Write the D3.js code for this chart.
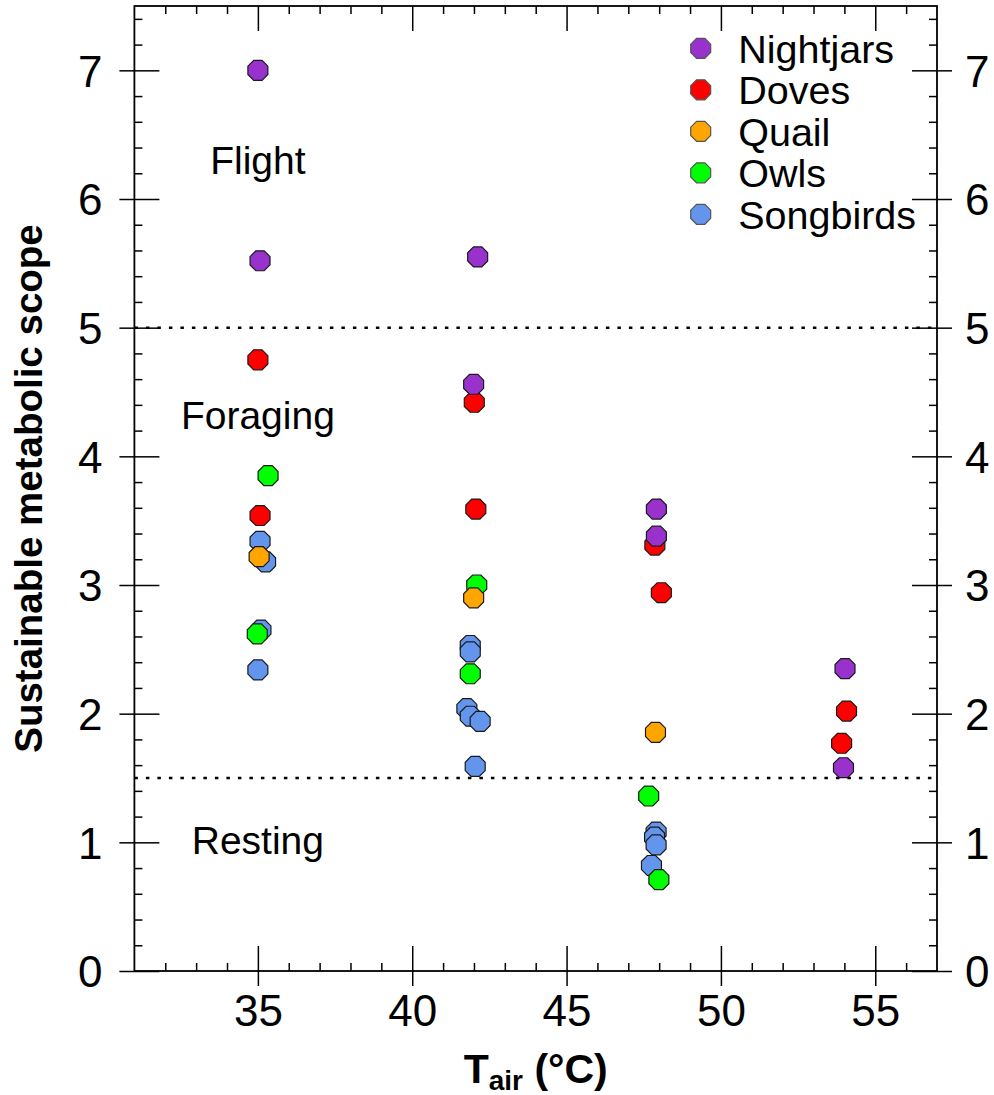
<!DOCTYPE html>
<html>
<head>
<meta charset="utf-8">
<script src="https://cdn.jsdelivr.net/npm/d3@7"></script>
<style>
  html, body { margin: 0; padding: 0; background: #fff; }
  svg { display: block; }
  text { font-family: "Liberation Sans", Arial, Helvetica, sans-serif; fill: #000; }
</style>
</head>
<body>
<svg id="chart" width="994" height="1095"></svg>
<script>
// ---------------- DATA ----------------
const nightjars = [[35.0, 7.0], [35.07, 5.52], [42.12, 5.55], [41.99, 4.56], [47.91, 3.59], [47.91, 3.38], [54.02, 2.35], [53.97, 1.58]];
const doves = [[35.0, 4.75], [35.07, 3.54], [42.01, 4.42], [42.06, 3.59], [47.86, 3.31], [48.07, 2.94], [54.07, 2.02], [53.91, 1.77]];
const quail = [[35.04, 3.22], [41.99, 2.90], [47.88, 1.855]];
const owls = [[35.33, 3.85], [34.98, 2.62], [42.09, 3.00], [41.88, 2.31], [47.66, 1.36], [47.99, 0.71]];
const songbirds = [[35.07, 3.34], [35.25, 3.18], [35.1, 2.65], [35.0, 2.34], [41.88, 2.53], [41.88, 2.48], [41.77, 2.04], [41.88, 1.98], [42.2, 1.94], [42.04, 1.59], [47.9, 1.08], [47.85, 1.04], [47.9, 0.98], [47.75, 0.82]];

const seriesNames = ["Nightjars", "Doves", "Quail", "Owls", "Songbirds"];
const seriesColors = ["#9932CC", "#FF0000", "#FFA500", "#00FF00", "#6495ED"];
const seriesData = [nightjars, doves, quail, owls, songbirds];

const xTicks = [35, 40, 45, 50, 55];
const yTicks = [0, 1, 2, 3, 4, 5, 6, 7];
const thresholds = [5, 1.5];
const regionLabels = ["Flight", "Foraging", "Resting"];
const regionValues = [6.3, 4.32, 1.02];
const regionX = 35;

// ---------------- LAYOUT ----------------
const plotL = 134.4, plotR = 937, plotT = 6, plotB = 971;
const svg = d3.select("#chart");

const x = d3.scaleLinear().domain([31, 57]).range([plotL, plotR]);
const y = d3.scaleLinear().domain([0, 7.5]).range([plotB, plotT]);

const tickFont = 44;
const majorIn = 25, majorOut = 15, minorIn = 8;

const xMinor = d3.range(32, 57, 1).filter(v => v % 5 !== 0);
const yMinor = d3.range(1, 38).map(k => +(k * 0.2).toFixed(1)).filter(v => Math.abs(v - Math.round(v)) > 1e-6);

function styleAxis(g) {
  g.select(".domain").remove();
  g.selectAll(".tick line").attr("stroke", "#000").attr("stroke-width", 1.5);
  g.selectAll("text").attr("font-size", tickFont).attr("fill", "#000")
    .style("font-family", '"Liberation Sans", Arial, sans-serif');
}

// Bottom axis: outward ticks + labels
svg.append("g").attr("transform", `translate(0,${plotB})`)
  .call(d3.axisBottom(x).tickValues(xTicks).tickSizeInner(majorOut).tickSizeOuter(0).tickPadding(9).tickFormat(d3.format("d")))
  .call(styleAxis);
svg.append("g").attr("transform", `translate(0,${plotB})`)
  .call(d3.axisBottom(x).tickValues(xTicks).tickSizeInner(-majorIn).tickSizeOuter(0).tickFormat(""))
  .call(styleAxis);
svg.append("g").attr("transform", `translate(0,${plotB})`)
  .call(d3.axisBottom(x).tickValues(xMinor).tickSizeInner(-minorIn).tickSizeOuter(0).tickFormat(""))
  .call(styleAxis);
// top majors & minors (inward)
svg.append("g").attr("transform", `translate(0,${plotT})`)
  .call(d3.axisTop(x).tickValues(xTicks).tickSizeInner(-majorIn).tickSizeOuter(0).tickFormat(""))
  .call(styleAxis);
svg.append("g").attr("transform", `translate(0,${plotT})`)
  .call(d3.axisTop(x).tickValues(xMinor).tickSizeInner(-minorIn).tickSizeOuter(0).tickFormat(""))
  .call(styleAxis);

// Left axis
const gl = svg.append("g").attr("transform", `translate(${plotL},0)`)
  .call(d3.axisLeft(y).tickValues(yTicks).tickSizeInner(majorOut).tickSizeOuter(0).tickPadding(17).tickFormat(d3.format("d")))
  .call(styleAxis);
gl.selectAll("text").attr("dy", "0.36em");
svg.append("g").attr("transform", `translate(${plotL},0)`)
  .call(d3.axisLeft(y).tickValues(yTicks).tickSizeInner(-majorIn).tickSizeOuter(0).tickFormat(""))
  .call(styleAxis);
svg.append("g").attr("transform", `translate(${plotL},0)`)
  .call(d3.axisLeft(y).tickValues(yMinor).tickSizeInner(-minorIn).tickSizeOuter(0).tickFormat(""))
  .call(styleAxis);

// Right axis
const gr = svg.append("g").attr("transform", `translate(${plotR},0)`)
  .call(d3.axisRight(y).tickValues(yTicks).tickSizeInner(majorOut).tickSizeOuter(0).tickPadding(13).tickFormat(d3.format("d")))
  .call(styleAxis);
gr.selectAll("text").attr("dy", "0.36em");
svg.append("g").attr("transform", `translate(${plotR},0)`)
  .call(d3.axisRight(y).tickValues(yTicks).tickSizeInner(-majorIn).tickSizeOuter(0).tickFormat(""))
  .call(styleAxis);
svg.append("g").attr("transform", `translate(${plotR},0)`)
  .call(d3.axisRight(y).tickValues(yMinor).tickSizeInner(-minorIn).tickSizeOuter(0).tickFormat(""))
  .call(styleAxis);

// Frame
svg.append("rect")
  .attr("x", plotL).attr("y", plotT)
  .attr("width", plotR - plotL).attr("height", plotB - plotT)
  .attr("fill", "none").attr("stroke", "#000").attr("stroke-width", 1.8);

// Threshold dotted lines
svg.append("g").selectAll("line").data(thresholds).join("line")
  .attr("x1", plotL).attr("x2", plotR)
  .attr("y1", d => y(d)).attr("y2", d => y(d))
  .attr("stroke", "#000").attr("stroke-width", 2.5)
  .attr("stroke-dasharray", "3.5,8");

// Region labels
svg.append("g").selectAll("text").data(regionLabels).join("text")
  .attr("x", x(regionX))
  .attr("y", (d, i) => y(regionValues[i]))
  .attr("dy", "0.36em")
  .attr("text-anchor", "middle")
  .attr("font-size", 39)
  .text(d => d);

// Octagon marker
const R = 10.8;
const octPts = d3.range(8).map(k => {
  const a = (22.5 + 45 * k) * Math.PI / 180;
  return [R * Math.cos(a), R * Math.sin(a)];
});
const octPath = d3.line()(octPts) + "Z";

// Points (draw order: songbirds, owls, quail, doves, nightjars)
const drawOrder = [4, 3, 2, 1, 0];
const pts = svg.append("g");
drawOrder.forEach(si => {
  pts.append("g").selectAll("path").data(seriesData[si]).join("path")
    .attr("d", octPath)
    .attr("transform", d => `translate(${x(d[0])},${y(d[1])})`)
    .attr("fill", seriesColors[si])
    .attr("stroke", "#1a1a1a")
    .attr("stroke-width", 1.2);
});

// Legend
const legX = 700.7, legY = 48.3, legStep = 41.5;
const leg = svg.append("g");
seriesNames.forEach((name, i) => {
  leg.append("path")
    .attr("d", octPath)
    .attr("transform", `translate(${legX},${legY + i * legStep})`)
    .attr("fill", seriesColors[i])
    .attr("stroke", "#555").attr("stroke-width", 1.2);
  leg.append("text")
    .attr("x", legX + 37.5)
    .attr("y", legY + i * legStep)
    .attr("dy", "0.36em")
    .attr("font-size", 39.5)
    .text(name);
});

// Axis titles
svg.append("text")
  .attr("transform", `translate(42,${(plotT + plotB) / 2}) rotate(-90)`)
  .attr("text-anchor", "middle")
  .attr("font-size", 38.5)
  .attr("font-weight", "bold")
  .text("Sustainable metabolic scope");

const xt = svg.append("text")
  .attr("x", (plotL + plotR) / 2)
  .attr("y", 1083)
  .attr("text-anchor", "middle")
  .attr("font-size", 41)
  .attr("font-weight", "bold");
xt.append("tspan").text("T");
xt.append("tspan").attr("font-size", 28).attr("dy", 7).text("air");
xt.append("tspan").attr("dy", -7).text(" (°C)");
</script>
</body>
</html>
